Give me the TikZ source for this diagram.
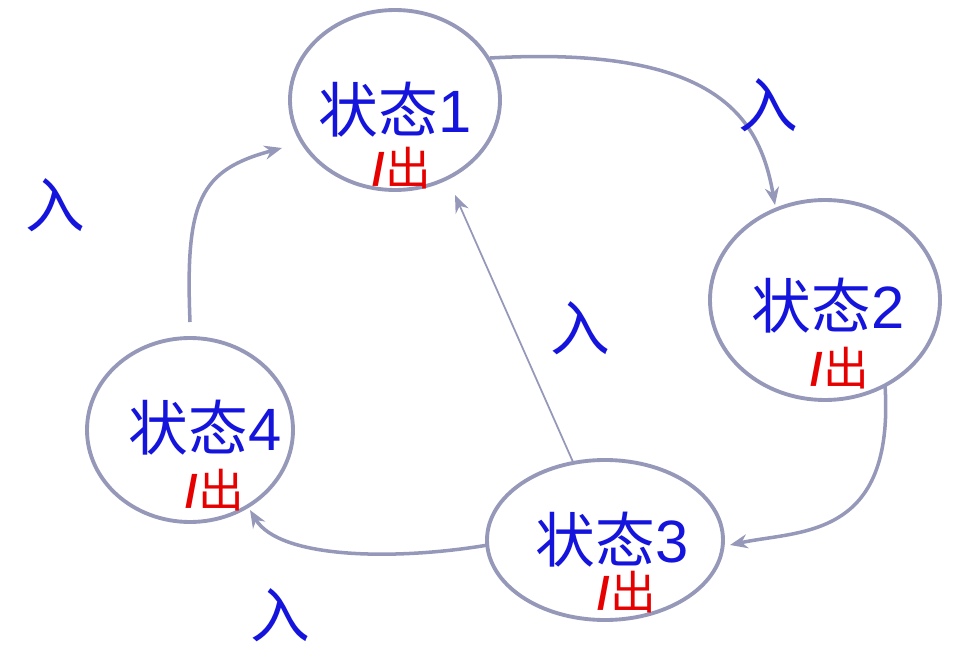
\documentclass[tikz,border=0pt]{standalone}
\usepackage{fontspec}
\newfontfamily\cjk{Noto Sans CJK SC}
\newfontfamily\dig{Liberation Sans}
\usetikzlibrary{arrows.meta}
\definecolor{edge}{RGB}{150,152,185}
\definecolor{stblue}{RGB}{20,20,220}
\definecolor{stred}{RGB}{230,0,0}
\begin{document}
\begin{tikzpicture}[x=0.02cm,y=-0.02cm,
  st/.style={draw=edge,line width=2.2pt,fill=white},
  lab/.style={font=\cjk\fontsize{34}{34}\selectfont,text=stblue},
  outl/.style={font=\cjk\fontsize{26}{26}\selectfont,text=stred},
  conn/.style={draw=edge,line width=2pt,-{Stealth[length=10pt,width=8pt]}},
  thin/.style={draw=edge,line width=1pt,-{Stealth[length=10pt,width=8pt]}}]
\useasboundingbox (0,0) rectangle (957,672);
\draw[st] (395,100) ellipse [x radius=105,y radius=90];
\draw[st] (825,300) ellipse [x radius=115,y radius=100];
\draw[st] (605,540) ellipse [x radius=118,y radius=80];
\draw[st] (190,430) ellipse [x radius=103,y radius=92];
\node[lab] (s1) at (395,110) {状态{\dig 1}};
\node[outl] (o1) at (402,168) {{\dig\bfseries/}出};
\node[lab] (s2) at (828,306) {状态{\dig 2}};
\node[outl] (o2) at (840,368) {{\dig\bfseries/}出};
\node[lab] (s3) at (612,540) {状态{\dig 3}};
\node[outl] (o3) at (627,592) {{\dig\bfseries/}出};
\node[lab] (s4) at (205,428) {状态{\dig 4}};
\node[outl] (o4) at (215,490) {{\dig\bfseries/}出};
\coordinate (a1) at (490,58); \coordinate (a2) at (775,205);
\coordinate (b1) at (885,385); \coordinate (b2) at (730,545);
\coordinate (c1) at (488,545); \coordinate (c2) at (250,510);
\coordinate (d1) at (573,462); \coordinate (d2) at (455,195);
\coordinate (e1) at (190,322); \coordinate (e2) at (282,148);
\draw[conn] (a1) .. controls (720,45) and (760,120) .. (a2);
\draw[conn] (b1) .. controls (895,540) and (800,530) .. (b2);
\draw[conn] (c1) .. controls (400,560) and (280,560) .. (c2);
\draw[thin] (d1) -- (d2);
\draw[conn] (e1) .. controls (185,200) and (200,170) .. (e2);
\node[lab] (l1) at (768,105) {入};
\node[lab] (l2) at (580,328) {入};
\node[lab] (l3) at (280,615) {入};
\node[lab] (l4) at (55,205) {入};
\end{tikzpicture}
\end{document}
